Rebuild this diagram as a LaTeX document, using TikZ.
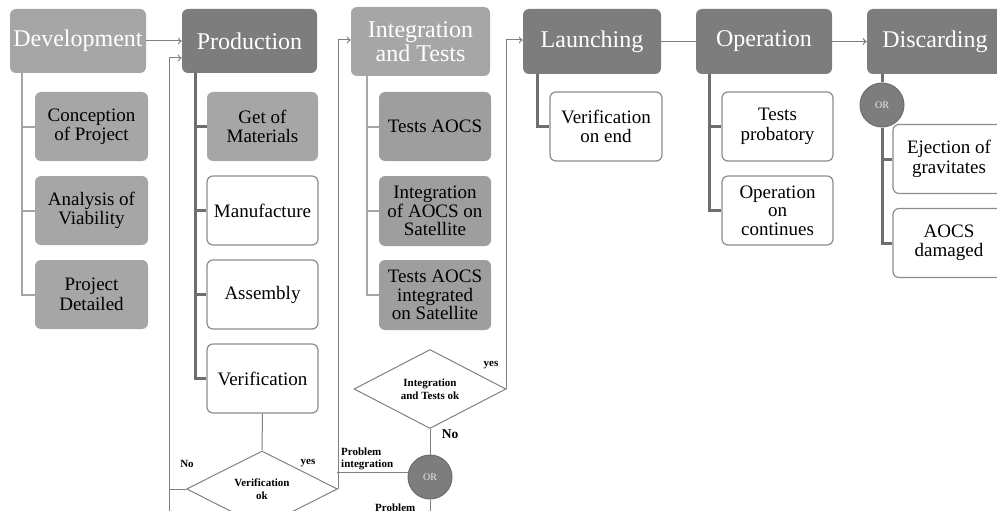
\documentclass[tikz,border=0pt]{standalone}
\usepackage{fontspec}
\setmainfont{Liberation Serif}
\usetikzlibrary{shapes.geometric,arrows.meta}
\definecolor{gLight}{HTML}{A6A6A6}
\definecolor{gMid}{HTML}{9E9E9E}
\definecolor{gDark}{HTML}{7D7D7D}
\definecolor{gTree}{HTML}{6E6E6E}
\definecolor{gBorder}{HTML}{8C8C8C}
\definecolor{gLine}{HTML}{808080}
\begin{document}
\begin{tikzpicture}[x=1pt,y=-1pt,
  topbox/.style={rounded corners=6pt, text=white, font=\fontsize{24}{23.5}\selectfont, align=center, inner sep=0pt, minimum height=64pt, minimum width=136pt},
  lightbox/.style={fill=gLight},
  darkbox/.style={fill=gDark},
  child/.style={rounded corners=6pt, font=\fontsize{19}{19.5}\selectfont, align=center, inner sep=0pt, minimum height=69pt, minimum width=111pt},
  greybox/.style={child, fill=gLight},
  midbox/.style={child, fill=gMid, minimum width=112pt},
  whitebox/.style={child, fill=white, draw=gBorder, line width=1.2pt},
  treeL/.style={draw=gLight, line width=2pt},
  treeD/.style={draw=gTree, line width=3pt},
  flow/.style={draw=gLine, line width=1pt},
  arr/.style={-{To[length=4pt,width=7pt]}},
  decision/.style={diamond, draw=gLine, line width=1pt, fill=white, inner sep=0pt, align=center, font=\fontsize{11}{13}\selectfont\bfseries},
  orcirc/.style={circle, fill=gDark, draw=gTree, line width=1pt, minimum size=44pt, inner sep=0pt, text=white!85!gray, font=\fontsize{10}{10}\selectfont},
  lbl/.style={font=\fontsize{11}{12}\selectfont\bfseries, inner sep=0pt, align=left}
]
\useasboundingbox (0,0) rectangle (997,511);
\clip (0,0) rectangle (997,511);

% top level
\node[topbox,lightbox] (dev) at (78,41) {Development};
\node[topbox,darkbox, minimum width=135pt] (prod) at (249.5,41) {Production};
\node[topbox,lightbox, minimum width=139pt, minimum height=69pt] (integ) at (420.5,41.5) {Integration\\and Tests};
\node[topbox,darkbox, minimum width=138pt, minimum height=65pt] (launch) at (592,41.5) {Launching};
\node[topbox,darkbox, minimum height=65pt] (oper) at (764,41.5) {Operation};
\node[topbox,darkbox, minimum height=65pt] (disc) at (935,41.5) {Discarding};

% development children
\node[greybox, minimum width=113pt] (d1) at (91.5,126.5) {Conception\\of Project};
\node[greybox, minimum width=113pt] (d2) at (91.5,210.5) {Analysis of\\Viability};
\node[greybox, minimum width=113pt] (d3) at (91.5,294.5) {Project\\Detailed};

% production children
\node[greybox] (p1) at (262.5,126.5) {Get of\\Materials};
\node[whitebox] (p2) at (262.5,210.5) {Manufacture};
\node[whitebox] (p3) at (262.5,294.5) {Assembly};
\node[whitebox] (p4) at (262.5,378.5) {Verification};

% integration children
\node[midbox] (i1) at (435,126.5) {Tests AOCS};
\node[midbox, minimum height=70pt, font=\fontsize{19}{18.5}\selectfont] (i2) at (435,211) {Integration\\of AOCS on\\Satellite};
\node[midbox, minimum height=70pt, font=\fontsize{19}{18.5}\selectfont] (i3) at (435,295) {Tests AOCS\\integrated\\on Satellite};

% launching / operation children
\node[whitebox, minimum width=112pt] (l1) at (606,126.5) {Verification\\on end};
\node[whitebox] (o1) at (777.5,126.5) {Tests\\probatory};
\node[whitebox, font=\fontsize{19}{18.5}\selectfont] (o2) at (777.5,210.5) {Operation\\on\\continues};

% discarding
\node[orcirc] (orD) at (882,105) {OR};
\node[whitebox, minimum width=112pt] (x1) at (949,159) {Ejection of\\gravitates};
\node[whitebox, minimum width=112pt] (x2) at (949,243) {AOCS\\damaged};

% tree lines
\coordinate (devT) at (22,73);
\draw[treeL] (devT) |- (d1.west);
\draw[treeL] (devT) |- (d2.west);
\draw[treeL] (devT) |- (d3.west);
\coordinate (prodT) at (195,73);
\draw[treeD] (prodT) |- (p1.west);
\draw[treeD] (prodT) |- (p2.west);
\draw[treeD] (prodT) |- (p3.west);
\draw[treeD] (prodT) |- (p4.west);
\coordinate (integT) at (367,76);
\draw[treeL] (integT) |- (i1.west);
\draw[treeL] (integT) |- (i2.west);
\draw[treeL] (integT) |- (i3.west);
\coordinate (launchT) at (537,74);
\draw[treeD] (launchT) |- (l1.west);
\coordinate (operT) at (709,74);
\draw[treeD] (operT) |- (o1.west);
\draw[treeD] (operT) |- (o2.west);
\draw[treeD] (orD.north |- disc.south) -- (orD.north);
\draw[treeD] (orD.south) |- (x1.west);
\draw[treeD] (orD.south) |- (x2.west);

% phase arrows
\draw[flow,arr] (dev.east) -- (prod.west);
\draw[flow] (launch.east) -- (oper.west);
\draw[flow,arr] (oper.east) -- (disc.west);

% decisions
\node[decision, minimum width=151pt, minimum height=64pt] (vok) at (262,489) {Verification\\ok};
\node[decision, minimum width=152pt, minimum height=50pt] (iok) at (430,389) {Integration\\and Tests ok};
\node[orcirc] (or1) at (430,477) {OR};

\draw[flow] (p4.south) -- (vok.north);
\coordinate (lA) at (169,489);
\coordinate (lB) at (169,58);
\coordinate (lC) at (169,520);
\draw[flow,arr] (vok.west) -- (lA) -- (lB) -- (lB -| prod.west);
\draw[flow] (lA) -- (lC);
\coordinate (rA) at (337,40);
\draw[flow,arr] (vok.east) -- (vok.east |- rA) -- (rA -| integ.west);
\coordinate (pC) at (337,472);
\draw[flow] (pC) -- (or1.west |- pC);
\draw[flow] (iok.south) -- (or1.north);
\coordinate (rB) at (506,40);
\draw[flow,arr] (iok.east) -- (iok.east |- rB) -- (rB -| launch.west);
\coordinate (oB) at (430,520);
\draw[flow] (or1.south) -- (oB);

% labels
\node[lbl] (noA) at (187,464) {No};
\node[lbl] (yesA) at (308,463) {yes};
\node[lbl, anchor=south west] (probA) at (341,470) {Problem\\integration};
\node[lbl, font=\fontsize{13.5}{13.5}\selectfont\bfseries] (noB) at (450,434) {No};
\node[lbl] (yesB) at (491,365) {yes};
\node[lbl, anchor=north west] (probB) at (375,504) {Problem};
\end{tikzpicture}
\end{document}
